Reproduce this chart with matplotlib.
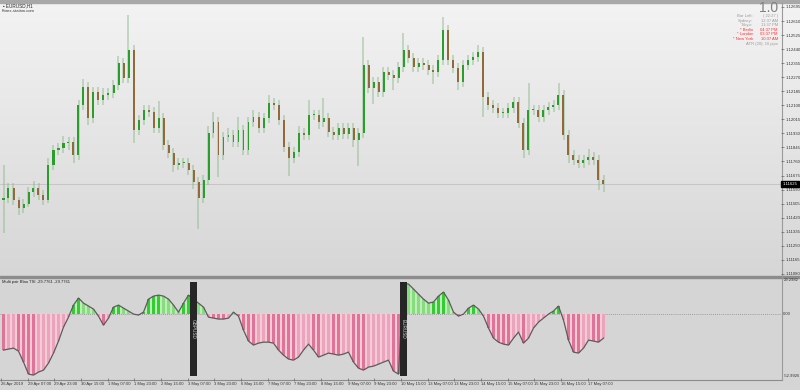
import matplotlib
matplotlib.use("Agg")
import matplotlib.pyplot as plt
import numpy as np
from matplotlib.colors import LinearSegmentedColormap
from matplotlib.patches import Rectangle

plt.rcParams["font.family"] = ["Liberation Sans", "DejaVu Sans"]

# EURUSD H1, one value per 3 hours (26 Apr - 17 May 2019)
first_open = 1.11527
closes = [
    1.11539, 1.11600, 1.11527, 1.11479, 1.11503, 1.11575, 1.11600, 1.11557, 1.11527, 1.11739,
    1.11830, 1.11842, 1.11872, 1.11878, 1.11799, 1.12102, 1.12211, 1.12023, 1.12180, 1.12132,
    1.12162, 1.12174, 1.12223, 1.12356, 1.12265, 1.12435, 1.11951, 1.12011, 1.12072, 1.12059,
    1.11963, 1.12023, 1.11860, 1.11811, 1.11739, 1.11751, 1.11751, 1.11709, 1.11636, 1.11539,
    1.11648, 1.11932, 1.11999, 1.11799, 1.11908, 1.11920, 1.11878, 1.11951, 1.11830, 1.11999,
    1.12029, 1.11963, 1.12023, 1.12114, 1.12102, 1.12011, 1.11848, 1.11781, 1.11817, 1.11932,
    1.11920, 1.12041, 1.12041, 1.11999, 1.12023, 1.11938, 1.11920, 1.11963, 1.11926, 1.11963,
    1.11890, 1.11932, 1.12344, 1.12205, 1.12241, 1.12180, 1.12301, 1.12283, 1.12265, 1.12332,
    1.12435, 1.12386, 1.12332, 1.12356, 1.12344, 1.12314, 1.12301, 1.12374, 1.12556, 1.12374,
    1.12326, 1.12241, 1.12344, 1.12374, 1.12392, 1.12422, 1.12150, 1.12102, 1.12084, 1.12053,
    1.12053, 1.12084, 1.12120, 1.11993, 1.11830, 1.12072, 1.12072, 1.12029, 1.12072, 1.12090,
    1.12102, 1.12162, 1.11920, 1.11799, 1.11769, 1.11751, 1.11769, 1.11787, 1.11769, 1.11648,
    1.11625,
]
# wick lengths beyond the body, in pips
wick_up = [
    20, 3, 3, 2, 3, 3, 4, 3, 3, 4, 3, 3, 4, 3, 3, 3, 5, 3, 3, 3,
    4, 3, 3, 4, 3, 21, 3, 3, 3, 3, 3, 10, 3, 3, 3, 3, 3, 3, 3, 3,
    3, 4, 6, 3, 3, 4, 3, 8, 3, 3, 4, 3, 3, 5, 3, 3, 3, 3, 3, 4,
    3, 9, 3, 3, 12, 3, 3, 3, 3, 3, 3, 3, 17, 3, 3, 3, 3, 3, 3, 3,
    10, 3, 3, 3, 3, 3, 3, 3, 8, 3, 3, 3, 3, 3, 3, 4, 3, 3, 3, 3,
    3, 3, 3, 3, 3, 16, 3, 3, 3, 3, 3, 7, 3, 3, 3, 3, 3, 5, 3, 3,
    3,
]
wick_dn = [
    20, 3, 3, 4, 3, 2, 3, 3, 3, 2, 3, 3, 3, 4, 5, 3, 3, 4, 3, 3,
    3, 3, 3, 3, 3, 3, 8, 3, 3, 3, 3, 3, 3, 3, 4, 3, 3, 3, 4, 19,
    3, 3, 3, 13, 3, 3, 3, 3, 3, 3, 3, 3, 3, 3, 3, 3, 3, 11, 3, 3,
    3, 3, 3, 4, 3, 3, 3, 3, 3, 3, 4, 16, 3, 3, 10, 3, 3, 3, 7, 3,
    3, 3, 3, 3, 3, 3, 7, 3, 3, 3, 3, 5, 3, 3, 3, 3, 12, 3, 3, 3,
    3, 3, 3, 3, 5, 3, 3, 3, 3, 3, 3, 3, 3, 5, 3, 3, 3, 3, 3, 6,
    5,
]

# Multi pair Blau TSI, same 3-hour steps
tsi = [
    -30.0, -29.2, -28.4, -30.9, -39.9, -49.8, -50.6, -48.1, -46.5, -40.7,
    -32.5, -22.6, -11.1, -2.9, 7.0, 12.8, 8.6, 6.2, 3.7, -2.1,
    -9.5, -3.7, 5.3, 7.0, 4.5, 2.1, -0.4, -1.2, 1.2, 11.9,
    14.4, 15.2, 14.4, 11.9, 7.0, 1.2, 8.6, 15.2, 11.9, 8.6,
    5.3, -2.9, -3.7, -4.5, -4.5, -3.7, 1.2, -2.1, -13.6, -22.6,
    -25.9, -24.3, -23.5, -23.5, -24.3, -30.0, -34.2, -37.4, -38.3, -35.8,
    -30.0, -25.1, -30.0, -35.8, -34.2, -32.5, -33.3, -34.2, -33.3, -31.7,
    -39.9, -44.9, -46.5, -44.0, -43.2, -41.6, -39.9, -38.3, -47.3, -49.8,
    25.0, 24.3, 20.2, 16.0, 11.9, 8.6, 9.5, 14.4, 17.7, 11.1,
    1.2, -2.1, -0.4, 4.5, 7.0, 3.7, -2.1, -11.9, -20.2, -23.5,
    -25.1, -25.9, -20.2, -15.2, -24.3, -20.2, -11.9, -7.0, -3.7, -0.4,
    2.1, 6.2, -5.3, -21.8, -31.7, -32.5, -28.4, -21.8, -22.6, -23.5,
    -20.2,
]
tsi_top = 29.2982
tsi_bottom = -52.9926

pair_switch = [38, 80]
pair_names = ["GBPUSD", "EURUSD"]

price_ticks = [1.12695, 1.12610, 1.12525, 1.12440, 1.12355, 1.12270, 1.12185, 1.12100,
               1.12015, 1.11930, 1.11845, 1.11760, 1.11675, 1.11590, 1.11505, 1.11420,
               1.11335, 1.11250, 1.11165, 1.11080]
time_labels = ["26 Apr 2019", "29 Apr 07:00", "29 Apr 23:00", "30 Apr 15:00", "1 May 07:00",
               "1 May 23:00", "2 May 15:00", "3 May 07:00", "3 May 23:00", "6 May 15:00",
               "7 May 07:00", "7 May 23:00", "8 May 15:00", "9 May 07:00", "9 May 23:00",
               "10 May 15:00", "13 May 07:00", "13 May 23:00", "14 May 15:00", "15 May 07:00",
               "15 May 23:00", "16 May 15:00", "17 May 07:00"]

bar_hours = 3
label_hours = 16
pip = 0.0001

# candle geometry
closes = np.array(closes)
opens = np.concatenate([[first_open], closes[:-1]])
highs = np.maximum(opens, closes) + np.array(wick_up) * pip
lows = np.minimum(opens, closes) - np.array(wick_dn) * pip
hrs = np.arange(len(closes)) * bar_hours + bar_hours / 2
bull = closes >= opens

fig = plt.figure(figsize=(8, 3.9), dpi=100)

# background, frame lines and screen texts in pixel coordinates
bg = fig.add_axes([0, 0, 1, 1], zorder=-5)
bg.set_xlim(0, 800)
bg.set_ylim(390, 0)
bg.axis("off")
grad = np.linspace(0, 1, 256)[:, None]
bg.imshow(grad, cmap=LinearSegmentedColormap.from_list("bg", ["#f3f3f3", "#d6d6d6"]),
          extent=[0, 800, 277, 3], aspect="auto")
bg.add_patch(Rectangle((0, 277), 800, 113, color="#d5d5d5"))
bg.add_patch(Rectangle((0, 0), 800, 3, color="#a8a8a8"))
bg.add_patch(Rectangle((0, 275.5), 800, 2.5, color="#8c8c8c"))
bg.plot([0, 781.5], [379.5, 379.5], color="#8c8c8c", lw=0.8)
bg.plot([781.5, 781.5], [3, 380], color="#9a9a9a", lw=0.8)

bg.text(3, 6, "\u25aa EURUSD,H1", fontsize=3.3, color="#222222", va="center")
bg.text(2, 10.5, "Forex-station.com", fontsize=3, color="#333333", va="center")

bg.text(778, 8.5, "1.0", fontsize=10, color="#808080", ha="right", va="center")
info_rows = [("Bar Left:", "( 22:27 )", "#9a9a9a"), ("Sydney:", "12:37 AM", "#9a9a9a"),
             ("Tokyo:", "11:37 PM", "#9a9a9a"), ("* Berlin", "04:37 PM", "#ff3030"),
             ("* London", "03:37 PM", "#ff3030"), ("* New York", "10:37 AM", "#ff3030")]
for i, (name, val, col) in enumerate(info_rows):
    y = 16 + i * 4.6
    bg.text(753, y, name, fontsize=3, color=col, ha="right", va="center")
    bg.text(778, y, val, fontsize=3, color=col, ha="right", va="center")
bg.text(778, 16 + 6 * 4.6, "ATR (20): 16 pips", fontsize=3, color="#9a9a9a", ha="right", va="center")

xlim = (-0.6, 468)

# price panel
ax = fig.add_axes([0, 1 - 276 / 390, 781 / 800, 273 / 390])
ax.set_facecolor("none")
ax.set_xlim(*xlim)
ax.set_ylim(1.11067, 1.12719)
ax.axhline(closes[-1], color="#c2c2c2", lw=0.6, zorder=1)
ax.vlines(hrs, lows, highs, color="#8dbb8d", lw=1.1, alpha=0.6, zorder=2)
body = np.maximum(np.abs(closes - opens), 0.4 * pip)
ax.bar(hrs, body, bottom=np.minimum(opens, closes), width=1.2,
       color=np.where(bull, "#2a9e2a", "#916a3a"), zorder=3)
ax.yaxis.tick_right()
ax.set_yticks(price_ticks)
ax.set_yticklabels([f"{p:.5f}" for p in price_ticks])
ax.tick_params(axis="y", length=2, width=0.5, color="#666666", labelsize=3.1,
               labelcolor="#333333", pad=1)
ax.set_xticks([])
for s in ax.spines.values():
    s.set_visible(False)
ax.text(1.002, closes[-1], f"{closes[-1]:.5f}", transform=ax.get_yaxis_transform(),
        fontsize=3.1, color="white", va="center", ha="left",
        bbox=dict(boxstyle="square,pad=0.25", fc="black", ec="black"))

# oscillator panel
ax2 = fig.add_axes([0, 1 - 378 / 390, 781 / 800, 100 / 390])
ax2.set_facecolor("none")
ax2.set_xlim(*xlim)
ax2.set_ylim(tsi_bottom, tsi_top)
tsi = np.array(tsi)
# light fill under the curve, striped bars: strong where moving away from zero
ax2.fill_between(hrs, 0, tsi, where=tsi >= 0, interpolate=True, color="#bfecb8", lw=0, zorder=2)
ax2.fill_between(hrs, 0, tsi, where=tsi <= 0, interpolate=True, color="#f4ccd8", lw=0, zorder=2)
grow = np.abs(tsi) >= np.abs(np.concatenate([[tsi[0]], tsi[:-1]]))
cols = np.where(tsi >= 0, np.where(grow, "#33cc33", "#86dd7e"),
                np.where(grow, "#e07398", "#eca3bc"))
ax2.bar(hrs, tsi, width=1.7, color=cols, zorder=2.5)
ax2.plot(hrs, tsi, color="#5c5c5c", lw=0.9, zorder=3)
ax2.axhline(0, color="#8a8a8a", lw=0.6, ls=(0, (1, 1.5)), zorder=1)
for k, name in zip(pair_switch, pair_names):
    ax2.bar(hrs[k], 77.3, bottom=-51.4, width=4.2, color="#262626", zorder=5)
    ax2.text(hrs[k], -12.5, name, rotation=270, fontsize=3.4, color="#d2d2d2",
             ha="center", va="center", zorder=6)
ax2.text(0.003, 0.955, "Multi pair Blau TSI -29.7761 -29.7761", transform=ax2.transAxes,
         fontsize=3, color="#222222", va="center")
ytr = ax2.get_yaxis_transform()
ax2.text(1.003, tsi_top, f"{tsi_top:.4f}", transform=ytr, fontsize=3, color="#333333", va="top")
ax2.text(1.003, 0, "0.00", transform=ytr, fontsize=3, color="#333333", va="center")
ax2.text(1.003, tsi_bottom, f"{tsi_bottom:.4f}", transform=ytr, fontsize=3, color="#333333", va="bottom")
ax2.set_yticks([])
ax2.set_xticks(np.arange(len(time_labels)) * label_hours)
ax2.set_xticklabels(time_labels)
for lbl in ax2.get_xticklabels():
    lbl.set_ha("left")
ax2.tick_params(axis="x", length=2, width=0.5, color="#666666", labelsize=3,
                labelcolor="#333333", pad=1)
for s in ax2.spines.values():
    s.set_visible(False)

fig.savefig("out.png", dpi=100)
